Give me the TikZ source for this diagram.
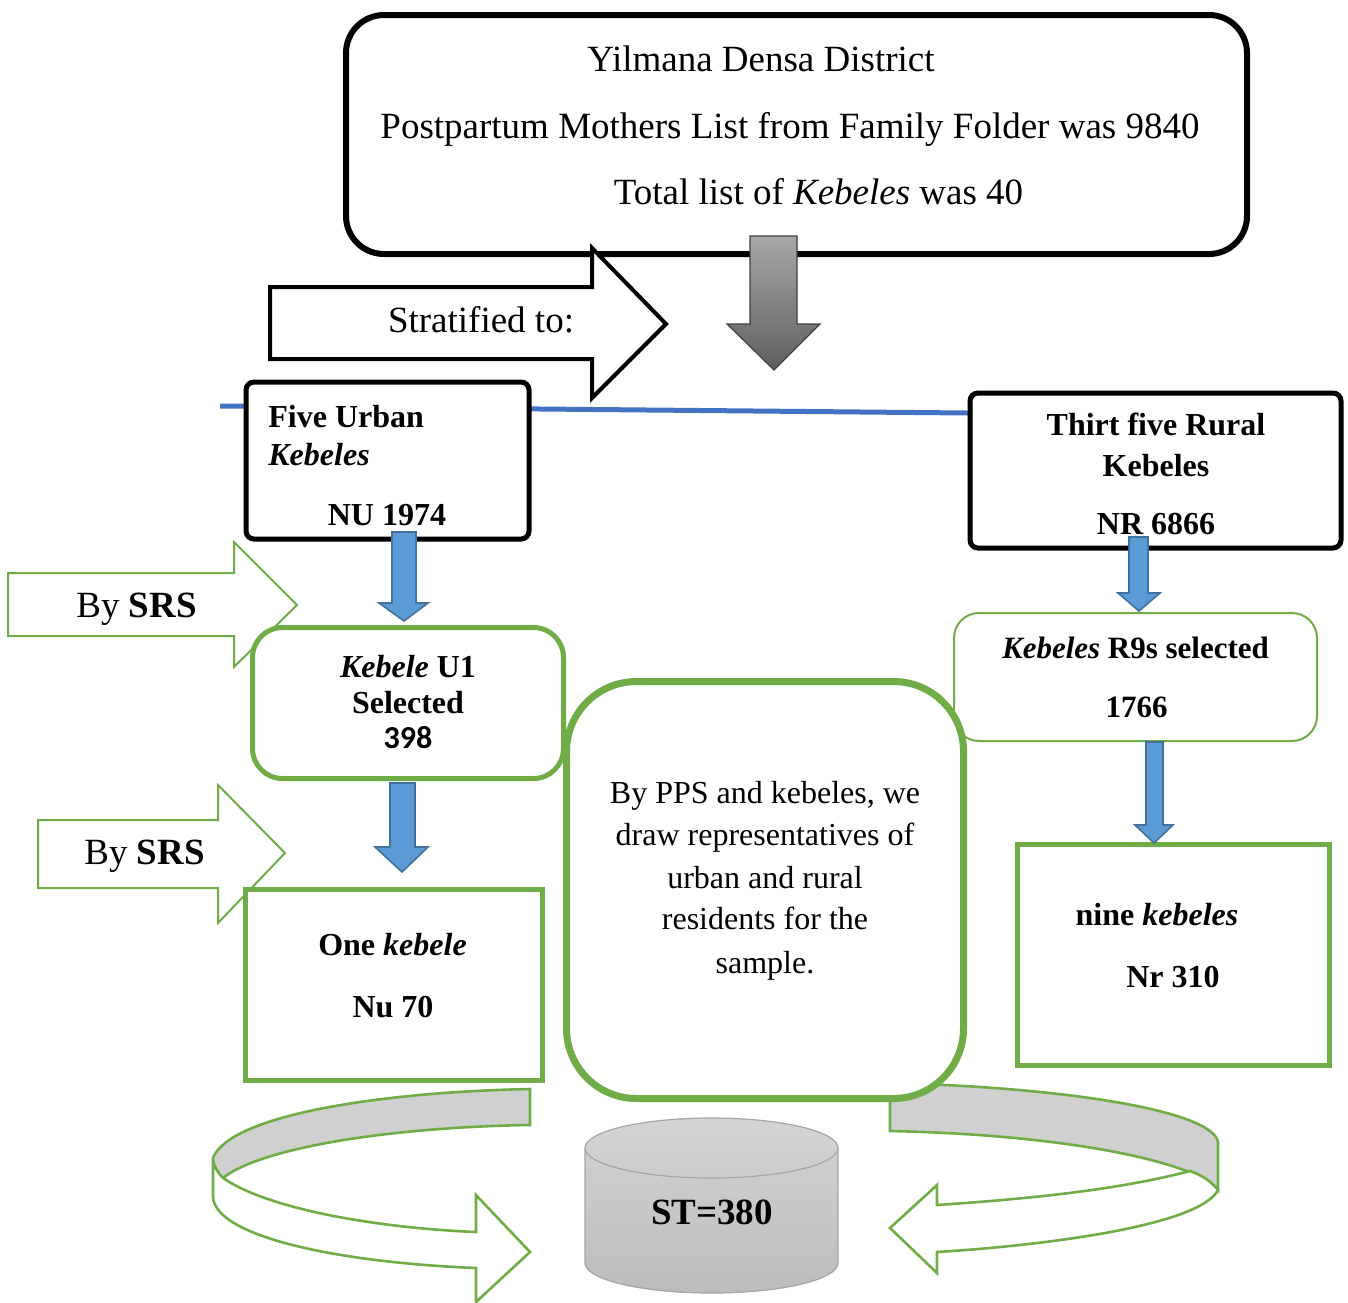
\documentclass[tikz,border=0pt]{standalone}
\usepackage{fontspec}
\setmainfont{Liberation Serif}
\newfontfamily\calibrifont{Carlito}
\definecolor{grn}{HTML}{70AD47}
\definecolor{bline}{HTML}{4472C4}
\definecolor{bfill}{HTML}{5B9BD5}
\definecolor{bdraw}{HTML}{41719C}
\definecolor{ribgray}{HTML}{D0D0D0}
\definecolor{cyltop}{HTML}{D4D4D4}
\definecolor{cylbot}{HTML}{BCBCBC}
\definecolor{cyledge}{HTML}{A5A5A5}
\definecolor{garrtop}{HTML}{A8A8A8}
\definecolor{garrbot}{HTML}{5E5E5E}
\begin{document}
\begin{tikzpicture}[x=0.5pt,y=-0.5pt,
  blackbox/.style={draw=black, line width=2.5pt, fill=white, inner sep=0pt, rounded corners=4pt},
  greenbox/.style={draw=grn, line width=2.5pt, fill=white, inner sep=0pt},
  thingreen/.style={draw=grn, line width=1pt, fill=white, line join=miter},
  ribbon/.style={draw=grn, line width=1.3pt, line join=miter},
  bluearr/.style={fill=bfill, draw=bdraw, line width=0.8pt, line join=miter},
  txtbig/.style={font=\fontsize{18.5}{22}\selectfont, inner sep=0pt, anchor=base},
  txtbold/.style={font=\fontsize{16}{19}\selectfont\bfseries, inner sep=0pt, anchor=base},
  txtmid/.style={font=\fontsize{16}{19}\selectfont, inner sep=0pt, anchor=base}]
\useasboundingbox (0,0) rectangle (1348,1302);

% top box
\node[blackbox, draw=black, line width=3pt, rounded corners=19pt, minimum width=450.5pt, minimum height=119.5pt] (top) at (796.5,134.5) {};
\node[txtbig] (t1) at (761,71) {Yilmana Densa District};
\node[txtbig] (t2) at (790,138) {Postpartum Mothers List from Family Folder was 9840};
\node[txtbig] (t3) at (818.5,204) {Total list of \textit{Kebeles} was 40};

% gray down arrow
\shade[top color=garrtop, bottom color=garrbot, draw=black!75, line width=0.6pt, line join=miter]
  (750,236) -- (797,236) -- (797,324) -- (820,324) -- (774,370) -- (727,324) -- (750,324) -- cycle;

% stratified arrow
\path[draw=black, line width=2pt, fill=white, line join=miter]
  (270,287) -- (592,287) -- (592,248) -- (666,324) -- (592,398) -- (592,359) -- (270,359) -- cycle;
\node[txtbig] (strat) at (481,332) {Stratified to:};

% blue line
\coordinate (bl1) at (220,406);
\coordinate (bl2) at (968,413);
\draw[bline, line width=2.5pt] (bl1) -- (bl2);

% Five urban
\node[blackbox, minimum width=141.5pt, minimum height=78.5pt] (urban) at (387.5,460.5) {};
\node[txtbold, anchor=base west] (u1) at (268,427) {Five Urban};
\node[txtbold, anchor=base west] (u2) at (268,465) {\textit{Kebeles}};
\node[txtbold] (u3) at (387,525) {NU 1974};

% Rural
\node[blackbox, minimum width=185.5pt, minimum height=77.5pt] (rural) at (1155.5,470.5) {};
\node[txtbold] (r1) at (1156,435) {Thirt five Rural};
\node[txtbold] (r2) at (1156,476) {Kebeles};
\node[txtbold] (r3) at (1156,534) {NR 6866};

% By SRS arrows
\path[thingreen] (8,573) -- (234,573) -- (234,542) -- (297,605) -- (234,667) -- (234,636) -- (8,636) -- cycle;
\node[txtbig] (srs1) at (136.5,617) {By \textbf{SRS}};
\path[thingreen] (38,820) -- (218,820) -- (218,785) -- (285,853) -- (218,923) -- (218,888) -- (38,888) -- cycle;
\node[txtbig] (srs2) at (144.5,864) {By \textbf{SRS}};

% Kebele U1
\node[greenbox, rounded corners=15pt, minimum width=155.5pt, minimum height=75.5pt] (ku1) at (408,703) {};
\node[txtbold] (k1) at (408,677) {\textit{Kebele} U1};
\node[txtbold] (k2) at (408,713) {Selected};
\node[txtbold, font=\fontsize{16}{19}\selectfont\calibrifont\bfseries] (k3) at (408,748) {398};

% Kebeles R9s
\node[greenbox, line width=1pt, rounded corners=12.5pt, minimum width=181.5pt, minimum height=64pt] (r9) at (1135.5,677) {};
\node[txtbold, font=\fontsize{15.5}{19}\selectfont\bfseries] (r9a) at (1135.5,658) {\textit{Kebeles} R9s selected};
\node[txtbold, font=\fontsize{15.5}{19}\selectfont\bfseries] (r9b) at (1136.5,717) {1766};

% ribbons (curved arrows)
\path[ribbon, fill=ribgray] (530,1089) .. controls (380,1092) and (230,1115) .. (213,1158)
  .. controls (213,1166) and (218,1173) .. (223,1178)
  .. controls (260,1148) and (390,1127) .. (530,1125) -- cycle;
\path[ribbon, fill=white] (223,1178) .. controls (270,1210) and (380,1228) .. (476,1232)
  -- (476,1195) -- (530,1252) -- (476,1302) -- (476,1268)
  .. controls (330,1262) and (215,1235) .. (213,1197) -- (213,1158)
  .. controls (213,1166) and (218,1173) .. (223,1178) -- cycle;
\path[ribbon, fill=ribgray] (890,1083) .. controls (1060,1087) and (1212,1110) .. (1218,1142)
  -- (1218,1190) .. controls (1200,1165) and (1080,1135) .. (890,1131) -- cycle;
\path[ribbon, fill=white] (1190,1171) .. controls (1110,1192) and (1010,1200) .. (937,1205)
  -- (937,1185) -- (890,1228) -- (937,1273) -- (937,1252)
  .. controls (1050,1245) and (1200,1225) .. (1218,1190)
  .. controls (1212,1182) and (1202,1175) .. (1190,1171) -- cycle;

% One kebele
\node[greenbox, minimum width=148.5pt, minimum height=95.5pt] (one) at (394,985) {};
\node[txtbold] (o1) at (392.5,955) {One \textit{kebele}};
\node[txtbold] (o2) at (393,1017) {Nu 70};

% nine kebeles
\node[greenbox, minimum width=156pt, minimum height=110.5pt] (nine) at (1173.5,955) {};
\node[txtbold] (n1) at (1157,925) {nine \textit{kebeles}};
\node[txtbold] (n2) at (1173,987) {Nr 310};

% middle box
\node[greenbox, line width=3.5pt, rounded corners=35pt, minimum width=198.5pt, minimum height=208.5pt] (mid) at (765,890) {};
\node[txtmid] (m1) at (765,803) {By PPS and kebeles, we};
\node[txtmid] (m2) at (765,845) {draw representatives of};
\node[txtmid] (m3) at (765,888) {urban and rural};
\node[txtmid] (m4) at (765,929) {residents for the};
\node[txtmid] (m5) at (765,973) {sample.};

% cylinder
\shade[top color=cyltop, bottom color=cylbot, draw=cyledge, line width=0.6pt]
  (585,1148) -- (585,1263) arc[start angle=180, end angle=360, x radius=63.25pt, y radius=15pt]
  -- (838,1148) arc[start angle=0, end angle=180, x radius=63.25pt, y radius=15pt] -- cycle;
\draw[cyledge, line width=0.6pt] (585,1148) arc[start angle=180, end angle=360, x radius=63.25pt, y radius=15pt];
\node[txtbig, font=\fontsize{18.5}{22}\selectfont\bfseries] (st) at (712,1224) {ST=380};

% blue block arrows
\path[bluearr] (392,532) -- (416,532) -- (416,603) -- (428,603) -- (404,621) -- (379,603) -- (392,603) -- cycle;
\path[bluearr] (390,783) -- (415,783) -- (415,847) -- (428,847) -- (402,872) -- (375,847) -- (390,847) -- cycle;
\path[bluearr] (1129,537) -- (1148,537) -- (1148,593) -- (1160,593) -- (1139,611) -- (1118,593) -- (1129,593) -- cycle;
\path[bluearr] (1146,742) -- (1163,742) -- (1163,825) -- (1173,825) -- (1154,843) -- (1135,825) -- (1146,825) -- cycle;
\end{tikzpicture}
\end{document}
